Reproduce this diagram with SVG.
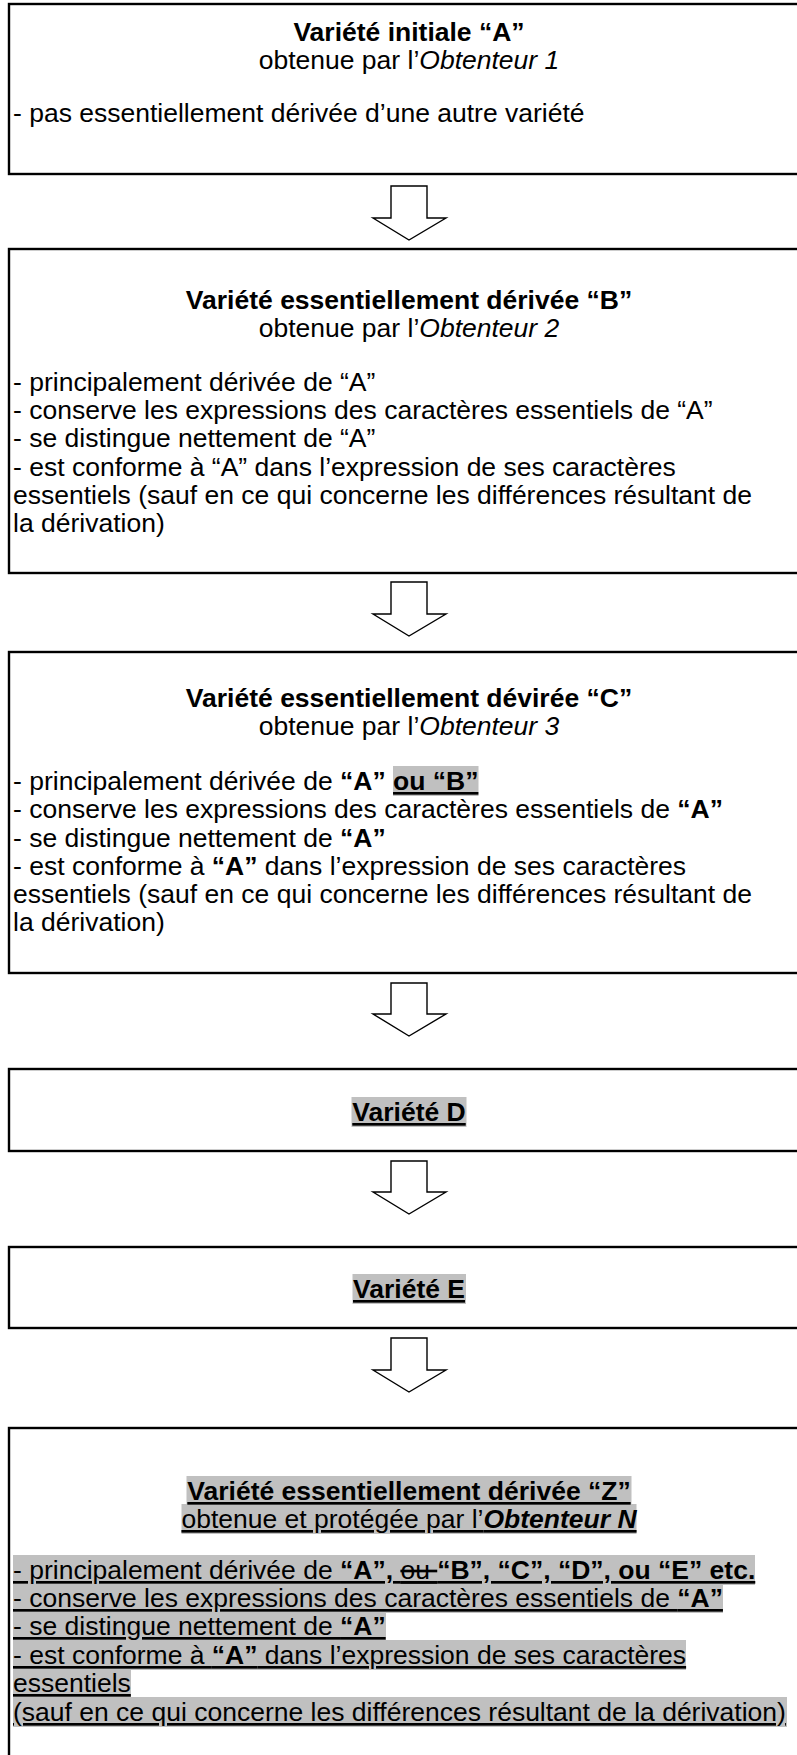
<svg xmlns="http://www.w3.org/2000/svg" width="797" height="1755" viewBox="0 0 797 1755">
<style>
.box{fill:#fff;stroke:#000;stroke-width:2.4}
.arr{fill:#fff;stroke:#000;stroke-width:1.4;stroke-linejoin:miter}
.hl{fill:#c0c0c0}
text{font-family:"Liberation Sans",Arial,sans-serif;font-size:26.5px;fill:#000}
.c{text-anchor:middle}
.b{font-weight:bold}
.i{font-style:italic}
.u{text-decoration:underline}
.s{text-decoration:line-through underline}
</style>
<rect width="797" height="1755" fill="#fff"/>
<g id="connectors">
<path class="arr" d="M391,186H427V218H446L409,240L373,218H391Z"/>
<path class="arr" d="M391,582H427V614H446L409,636L373,614H391Z"/>
<path class="arr" d="M391,983H427V1014H446L409,1036L373,1014H391Z"/>
<path class="arr" d="M391,1161H427V1192H446L409,1214L373,1192H391Z"/>
<path class="arr" d="M391,1338H427V1370H446L409,1392L373,1370H391Z"/>
</g>
<g id="nodeA">
<rect class="box" x="9" y="4" width="830" height="170"/>
<text class="c b" x="409" y="41">Variété initiale “A”</text>
<text class="c" x="409" y="69">obtenue par l’<tspan class="i">Obtenteur 1</tspan></text>
<text x="13" y="122">- pas essentiellement dérivée d’une autre variété</text>
</g>
<g id="nodeB">
<rect class="box" x="9" y="249" width="830" height="324"/>
<text class="c b" x="409" y="309">Variété essentiellement dérivée “B”</text>
<text class="c" x="409" y="337">obtenue par l’<tspan class="i">Obtenteur 2</tspan></text>
<text x="13" y="391">- principalement dérivée de “A”</text>
<text x="13" y="419">- conserve les expressions des caractères essentiels de “A”</text>
<text x="13" y="447">- se distingue nettement de “A”</text>
<text x="13" y="476">- est conforme à “A” dans l’expression de ses caractères</text>
<text x="13" y="504">essentiels (sauf en ce qui concerne les différences résultant de</text>
<text x="13" y="532">la dérivation)</text>
</g>
<g id="nodeC">
<rect class="box" x="9" y="652" width="830" height="321"/>
<rect class="hl" x="393" y="766" width="85.5" height="30"/>
<text class="c b" x="409" y="707">Variété essentiellement dévirée “C”</text>
<text class="c" x="409" y="735">obtenue par l’<tspan class="i">Obtenteur 3</tspan></text>
<text x="13" y="790">- principalement dérivée de <tspan class="b">“A”</tspan> <tspan class="b u">ou “B”</tspan></text>
<text x="13" y="818">- conserve les expressions des caractères essentiels de <tspan class="b">“A”</tspan></text>
<text x="13" y="847">- se distingue nettement de <tspan class="b">“A”</tspan></text>
<text x="13" y="875">- est conforme à <tspan class="b">“A”</tspan> dans l’expression de ses caractères</text>
<text x="13" y="903">essentiels (sauf en ce qui concerne les différences résultant de</text>
<text x="13" y="931">la dérivation)</text>
</g>
<g id="nodeD">
<rect class="box" x="9" y="1069" width="830" height="82"/>
<rect class="hl" x="351.5" y="1097" width="115" height="30"/>
<text class="c b u" x="409" y="1121">Variété D</text>
</g>
<g id="nodeE">
<rect class="box" x="9" y="1247" width="830" height="81"/>
<rect class="hl" x="352.5" y="1274" width="113.5" height="30"/>
<text class="c b u" x="409" y="1298">Variété E</text>
</g>
<g id="nodeZ">
<rect class="box" x="9" y="1428" width="830" height="380"/>
<rect class="hl" x="186.5" y="1476" width="445" height="30"/>
<rect class="hl" x="181.5" y="1504" width="455" height="30"/>
<rect class="hl" x="13" y="1555" width="742" height="30"/>
<rect class="hl" x="13" y="1583" width="710" height="30"/>
<rect class="hl" x="13" y="1611" width="373" height="30"/>
<rect class="hl" x="13" y="1640" width="673" height="30"/>
<rect class="hl" x="13" y="1668" width="118" height="30"/>
<rect class="hl" x="13" y="1697" width="774" height="30"/>
<text class="c b u" x="409" y="1500">Variété essentiellement dérivée “Z”</text>
<text class="c u" x="409" y="1528">obtenue et protégée par l’<tspan class="b i">Obtenteur N</tspan></text>
<text class="u" x="13" y="1579">- principalement dérivée de <tspan class="b">“A”, </tspan><tspan class="s">ou </tspan><tspan class="b">“B”, “C”, “D”, ou “E” etc.</tspan></text>
<text class="u" x="13" y="1607">- conserve les expressions des caractères essentiels de <tspan class="b">“A”</tspan></text>
<text class="u" x="13" y="1635">- se distingue nettement de <tspan class="b">“A”</tspan></text>
<text class="u" x="13" y="1664">- est conforme à <tspan class="b">“A”</tspan> dans l’expression de ses caractères</text>
<text class="u" x="13" y="1692">essentiels</text>
<text class="u" x="13" y="1721">(sauf en ce qui concerne les différences résultant de la dérivation)</text>
</g>
</svg>
